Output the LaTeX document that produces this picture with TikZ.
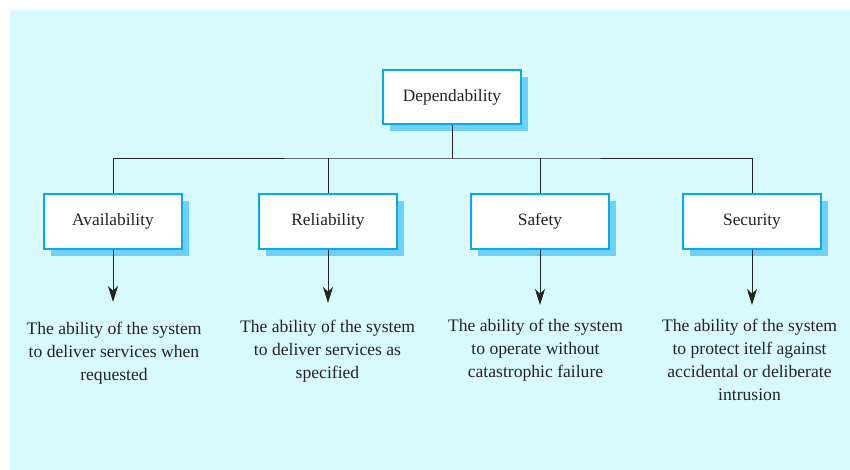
\documentclass[tikz,border=0pt]{standalone}
\usepackage{fontspec}
\setmainfont{Liberation Serif}
\usetikzlibrary{arrows.meta,shadows}

\definecolor{bgcyan}{RGB}{217,250,253}
\definecolor{boxcyan}{RGB}{0,174,239}
\definecolor{shadowcyan}{RGB}{112,208,246}
\definecolor{inkgray}{RGB}{35,35,35}

\tikzset{every picture/.style={line width=0.75pt}}
\tikzset{
  attrbox/.style={draw=boxcyan, line width=1.6pt, fill=white, minimum width=103pt, minimum height=41pt,
    inner sep=0pt, font=\fontsize{13}{16}\selectfont, text=inkgray,
    general shadow={fill=shadowcyan, shadow xshift=5.25pt, shadow yshift=-5.25pt}},
  desctext/.style={anchor=north, align=center, inner sep=0pt, text=inkgray,
    font=\fontsize{13.2}{17.2}\selectfont},
  tree/.style={draw=inkgray, line width=0.7pt},
  downarrow/.style={tree, -{Stealth[length=12pt, width=7.5pt, inset=3.5pt]}}
}

\begin{document}
\begin{tikzpicture}[x=0.75pt,y=0.75pt,yscale=-1,xscale=1]
		\useasboundingbox (0,0) rectangle (850,470);

		%Shape: Rectangle [background]
		\fill [bgcyan] (10,10) rectangle (850,470);

		% Boxes
		\node [attrbox] (dep) at (452,97) {Dependability};
		\node [attrbox] (avail) at (113,221.5) {Availability};
		\node [attrbox] (relia) at (328,221.5) {Reliability};
		\node [attrbox] (safe) at (540,221.5) {Safety};
		\node [attrbox] (secu) at (752,221.5) {Security};

		% Text Node
		\node [desctext] (availtxt) at (114,322) {The ability of the system\\to deliver services when\\requested};
		% Text Node
		\node [desctext] (reliatxt) at (327.5,320) {The ability of the system\\to deliver services as\\specified};
		% Text Node
		\node [desctext] (safetxt) at (535.5,319) {The ability of the system\\to operate without\\catastrophic failure};
		% Text Node
		\node [desctext] (secutxt) at (749.5,319) {The ability of the system\\to protect itelf against\\accidental or deliberate\\intrusion};

		%Straight Lines [tree]
		\coordinate (junc) at (452,158);
		\draw [tree] (dep.south) -- (junc);
		\draw [tree] (avail.north) |- (junc) -| (secu.north);
		\draw [tree] (relia.north) -- (relia.north |- junc);
		\draw [tree] (safe.north) -- (safe.north |- junc);

		%Straight Lines [arrows]
		\coordinate (availtip) at (113,302);
		\coordinate (reliatip) at (328,303);
		\coordinate (safetip) at (540,305);
		\coordinate (secutip) at (752,305);
		\draw [downarrow] (avail.south) -- (availtip);
		\draw [downarrow] (relia.south) -- (reliatip);
		\draw [downarrow] (safe.south) -- (safetip);
		\draw [downarrow] (secu.south) -- (secutip);

\end{tikzpicture}
\end{document}
